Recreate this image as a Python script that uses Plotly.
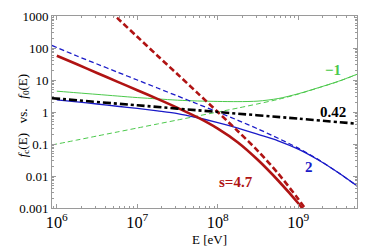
import math
import plotly.graph_objects as go

# energies [eV], quarter-decade steps
E_solid = [1e6, 1.78e6, 3.16e6, 5.62e6, 1e7, 1.78e7, 3.16e7, 5.62e7, 1e8, 1.78e8, 3.16e8, 5.62e8, 1e9, 1.78e9, 3.16e9, 5.37e9]
E_dash = [8.7e5, 1.78e6, 3.16e6, 5.62e6, 1e7, 1.78e7, 3.16e7, 5.62e7, 1e8, 1.78e8, 3.16e8, 5.62e8, 1e9, 1.78e9, 3.16e9, 5.37e9]

# s = 4.7 (red)
E_red_solid = [1e6, 1.78e6, 3.16e6, 5.62e6, 1e7, 1.78e7, 3.16e7, 5.62e7, 1e8, 1.78e8, 3.16e8, 5.62e8, 1e9, 1.78e9]
red_solid = [57.5, 30.9, 16.6, 8.91, 4.79, 2.57, 1.35, 0.676, 0.302, 0.112, 0.0316, 0.00724, 0.00141, 0.000224]
E_red_dash = [3.16e6, 5.62e6, 1e7, 1.78e7, 3.16e7, 5.62e7, 1e8, 1.78e8, 3.16e8, 5.62e8, 1e9, 1.78e9]
red_dash = [3311, 871, 224, 57.5, 15.1, 3.89, 1.0, 0.251, 0.0603, 0.0120, 0.00191, 0.000251]

# s = 2 (blue)
blue_solid = [2.40, 2.07, 1.78, 1.51, 1.29, 1.08, 0.891, 0.661, 0.468, 0.316, 0.200, 0.126, 0.0692, 0.0316, 0.0126, 0.0049]
blue_dash = [120, 56.2, 31.6, 17.8, 10.0, 5.62, 3.16, 1.78, 1.0, 0.550, 0.295, 0.151, 0.0741, 0.0324, 0.0126, 0.0049]

# s = -1 (green)
green_solid = [4.47, 3.98, 3.55, 3.16, 2.82, 2.57, 2.34, 2.21, 2.14, 2.11, 2.19, 2.63, 3.72, 5.75, 9.12, 15.1]
green_dash = [0.0933, 0.133, 0.178, 0.237, 0.316, 0.422, 0.562, 0.750, 1.0, 1.33, 1.80, 2.48, 3.63, 5.69, 9.02, 15.0]

# s = 0.42 (black)
E_black = [8.7e5, 1e7, 1e8, 1e9, 5.37e9]
black = [2.7, 1.62, 1.0, 0.62, 0.43]

ytick_vals = [0.001, 0.01, 0.1, 1, 10, 100, 1000]
ytick_text = ["0.001", "0.01", "0.1", "1", "10", "100", "1000"]

RED = "#b01313"
BLUE = "#1a1ac8"
GREEN = "#4cc94c"
BLACK = "#000000"

fig = go.Figure()

def add(x, y, color, width, dash):
    fig.add_trace(go.Scatter(x=x, y=y, mode="lines",
                             line=dict(color=color, width=width, dash=dash, shape="spline", smoothing=0.8),
                             showlegend=False, hoverinfo="skip"))

add(E_dash, green_dash, GREEN, 1, "5px,3px")
add(E_solid, green_solid, GREEN, 1, "solid")
add(E_dash, blue_dash, BLUE, 1.3, "5px,3px")
add(E_solid, blue_solid, BLUE, 1.3, "solid")
add(E_red_dash, red_dash, RED, 2.6, "6px,3px")
add(E_red_solid, red_solid, RED, 2.6, "solid")
add(E_black, black, BLACK, 2.6, "8px,3px,3px,3px")

font_serif = "Liberation Serif"

axis_common = dict(
    type="log", showgrid=False, zeroline=False, showline=True, linecolor="#9a9a9a", linewidth=1,
    mirror="allticks", ticks="inside", ticklen=4, tickcolor="#9a9a9a", automargin=False,
    tickfont=dict(family=font_serif, size=13, color="black"),
    minor=dict(ticks="inside", ticklen=2, tickcolor="#9a9a9a", dtick="D1", showgrid=False),
)

fig.update_xaxes(range=[5.94, 9.73], dtick=1, exponentformat="power", **axis_common)
fig.update_yaxes(range=[-3, 3], tickmode="array", tickvals=ytick_vals, ticktext=ytick_text, **axis_common)

# axis titles as annotations
fig.add_annotation(xref="paper", yref="paper", x=-0.128, y=0.48, textangle=-90, showarrow=False,
                   text="<i>f</i><sub>c</sub>(E)   vs.   <i>f</i><sub>0</sub>(E)",
                   font=dict(family=font_serif, size=13, color="black"))
fig.add_annotation(xref="paper", yref="paper", x=0.518, y=-0.165, showarrow=False, yanchor="middle",
                   text="E [eV]", font=dict(family=font_serif, size=13, color="black"))

labels = [
    (2.7e9, 20.0, "<b>\u22121</b>", GREEN),
    (2.7e9, 1.0, "<b>0.42</b>", BLACK),
    (1.35e9, 0.019, "<b>2</b>", BLUE),
    (1.7e8, 0.0063, "<b>s=4.7</b>", RED),
]
for x, y, t, c in labels:
    fig.add_annotation(x=math.log10(x), y=math.log10(y), text=t, showarrow=False,
                       font=dict(family=font_serif, size=15, color=c))

fig.update_layout(
    width=365, height=247, margin=dict(l=52, r=8, t=16, b=39),
    paper_bgcolor="white", plot_bgcolor="white",
)

fig.write_html("out.html", config={"displayModeBar": False},
               post_script="document.body.style.margin='0';")
